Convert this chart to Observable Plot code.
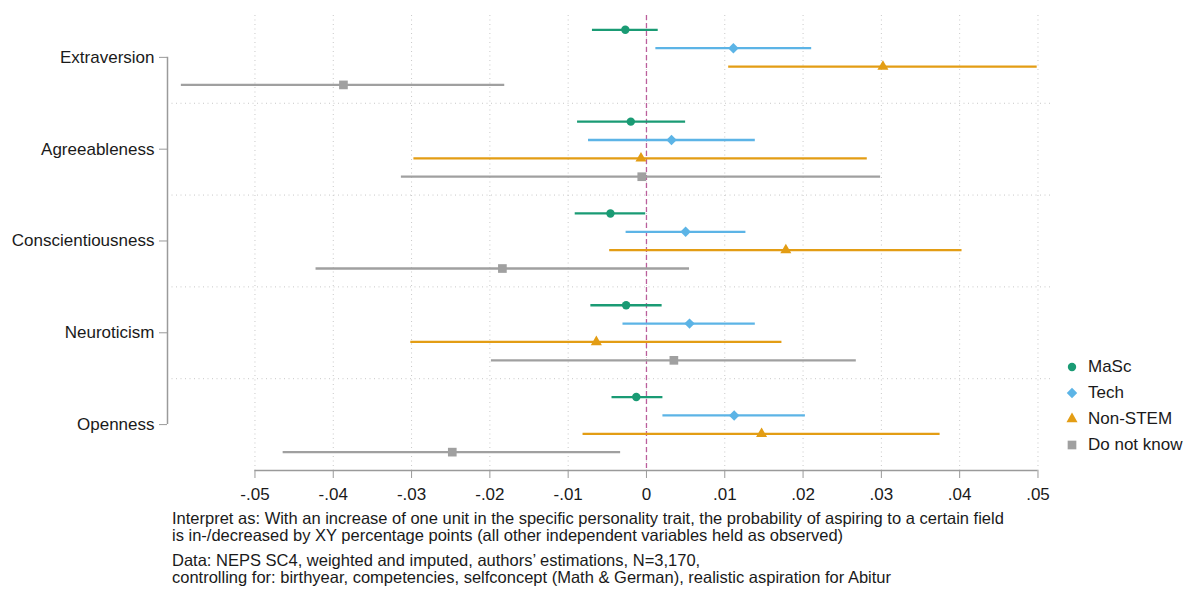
<!DOCTYPE html>
<html><head><meta charset="utf-8">
<script src="https://cdn.jsdelivr.net/npm/d3@7"></script>
<script src="https://cdn.jsdelivr.net/npm/@observablehq/plot@0.6"></script>
<style>
body{margin:0;background:#fff;font-family:"Liberation Sans",Arial,sans-serif;color:#1a1a1a}
#wrap{position:relative;width:1190px;height:590px;overflow:hidden}
#legend{position:absolute;left:1065px;top:354px;font-size:17px}
.li{height:26px;display:flex;align-items:center;white-space:nowrap}
.li svg{margin-right:9px}
#caption{position:absolute;left:172px;top:510px;font-size:16.5px;line-height:17px;white-space:nowrap}
#caption p{margin:0 0 8px 0}
g[aria-label="y-axis tick"], g[aria-label="x-axis tick"]{stroke:#9a9a9a}
</style>
</head><body>
<div id="wrap"><div id="chart"></div><div id="legend"></div>
<div id="caption">
<p>Interpret as: With an increase of one unit in the specific personality trait, the probability of aspiring to a certain field<br>is in-/decreased by XY percentage points (all other independent variables held as observed)</p>
<p>Data: NEPS SC4, weighted and imputed, authors’ estimations, N=3,170,<br>controlling for: birthyear, competencies, selfconcept (Math &amp; German), realistic aspiration for Abitur</p>
</div></div>
<script>
// ---- data ----
const traits = ["Extraversion", "Agreeableness", "Conscientiousness", "Neuroticism", "Openness"];
const groups = ["MaSc", "Tech", "Non-STEM", "Do not know"];
const xTicks = [-0.05, -0.04, -0.03, -0.02, -0.01, 0, 0.01, 0.02, 0.03, 0.04, 0.05];

const mascEst = [-0.0027, -0.0020, -0.0046, -0.0026, -0.0013];
const mascLo  = [-0.0069, -0.0088, -0.0091, -0.0071, -0.0044];
const mascHi  = [ 0.0015,  0.0050, -0.0001,  0.0020,  0.0021];
const techEst = [ 0.0111,  0.0032,  0.0050,  0.0055,  0.0112];
const techLo  = [ 0.0012, -0.0074, -0.0026, -0.0030,  0.0021];
const techHi  = [ 0.0211,  0.0139,  0.0127,  0.0139,  0.0203];
const nonEst  = [ 0.0302, -0.0007,  0.0178, -0.0064,  0.0147];
const nonLo   = [ 0.0105, -0.0297, -0.0047, -0.0301, -0.0081];
const nonHi   = [ 0.0499,  0.0282,  0.0403,  0.0173,  0.0375];
const dnkEst  = [-0.0387, -0.0006, -0.0184,  0.0035, -0.0248];
const dnkLo   = [-0.0594, -0.0313, -0.0422, -0.0198, -0.0464];
const dnkHi   = [-0.0181,  0.0299,  0.0055,  0.0268, -0.0033];

// ---- styles ----
const colors  = ["#1a9b74", "#5cb4e6", "#e39d14", "#a0a0a0"];
const symbols = ["circle", "diamond2", "triangle", "square"];
const radii   = [4.2, 4.7, 4.1, 4.9];
const font = "'Liberation Sans', Arial, sans-serif";

const series = [
  [mascEst, mascLo, mascHi], [techEst, techLo, techHi],
  [nonEst, nonLo, nonHi], [dnkEst, dnkLo, dnkHi]
];
const slot = groups.length + 1; // rows per trait incl. gap
const rows = traits.flatMap((t, i) => groups.map((g, j) => ({
  trait: t, group: g, row: i * slot + j,
  est: series[j][0][i], lo: series[j][1][i], hi: series[j][2][i]
})));
const labelPos = traits.map((t, i) => i * slot + (groups.length - 1) / 2);
const sepPos = traits.slice(1).map((t, i) => (i + 1) * slot - 1);
const yDomain = [-0.78, traits.length * slot - 1];
const xDomain = [-0.06117, 0.0516];
const fmt = d => d === 0 ? "0" : d3.format(".2f")(d).replace("\u2212", "-").replace("0.", ".");

const marks = [
  Plot.ruleX(xTicks, {x: d => d, y1: yDomain[0], y2: yDomain[1], stroke: "#c8c8c8", strokeDasharray: "1,3.5"}),
  Plot.ruleY(sepPos, {y: d => d, x1: xDomain[0], x2: xDomain[1], stroke: "#c8c8c8", strokeDasharray: "1,3.5"}),
  Plot.ruleX([0], {y1: yDomain[0], y2: yDomain[1], stroke: "#bb5f9c", strokeWidth: 1.3, strokeDasharray: "5,3"}),
  Plot.ruleX([xDomain[0]], {x: d => d, y1: labelPos[0], y2: labelPos[labelPos.length - 1], stroke: "#9a9a9a", strokeWidth: 1.5}),
  Plot.ruleY([yDomain[1]], {y: d => d, x1: xTicks[0], x2: xTicks[xTicks.length - 1], stroke: "#9a9a9a", strokeWidth: 1.5}),
  Plot.ruleY(rows, {y: "row", x1: "lo", x2: "hi", stroke: d => colors[groups.indexOf(d.group)], strokeWidth: 2.3}),
  ...groups.map((g, j) => Plot.dot(rows.filter(d => d.group === g), {
    x: "est", y: "row", symbol: symbols[j], r: radii[j], fill: colors[j], stroke: "none"
  })),
  Plot.axisY(labelPos, {
    anchor: "left", label: null, tickSize: 8, tickPadding: 5, fontSize: 17,
    tickFormat: v => traits[labelPos.indexOf(v)]
  }),
  Plot.axisX(xTicks, {
    anchor: "bottom", label: null, tickSize: 8, tickPadding: 9, fontSize: 17,
    tickFormat: fmt
  })
];

const chart = Plot.plot({
  width: 1190, height: 505,
  marginLeft: 167, marginRight: 140, marginTop: 15, marginBottom: 35,
  x: {domain: xDomain, axis: null},
  y: {domain: yDomain, reverse: true, axis: null},
  style: {fontFamily: font, fontSize: "17px", color: "#1a1a1a", background: "white", overflow: "visible"},
  marks
});
document.getElementById("chart").appendChild(chart);

// legend
const legend = document.getElementById("legend");
groups.forEach((g, j) => {
  const div = document.createElement("div");
  div.className = "li";
  const size = Math.PI * radii[j] * radii[j];
  const sym = {circle: d3.symbolCircle, diamond2: d3.symbolDiamond2, triangle: d3.symbolTriangle, square: d3.symbolSquare}[symbols[j]];
  div.innerHTML = `<svg width="14" height="14" viewBox="-7 -7 14 14"><path d="${d3.symbol(sym, size)()}" fill="${colors[j]}"/></svg><span>${g}</span>`;
  legend.appendChild(div);
});
</script>
</body></html>
